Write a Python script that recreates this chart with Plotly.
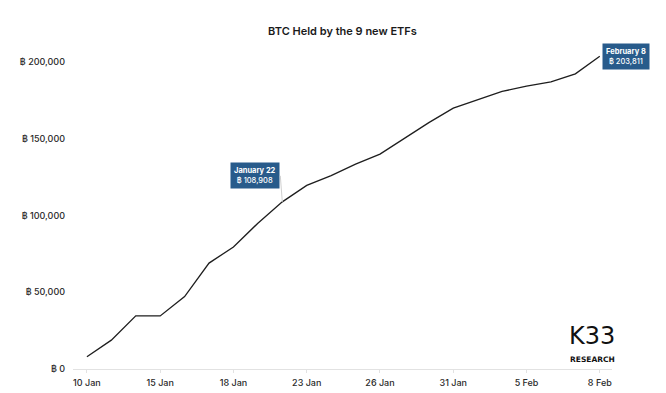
import plotly.graph_objects as go

dates = ["10 Jan", "11 Jan", "12 Jan", "15 Jan", "16 Jan", "17 Jan", "18 Jan", "19 Jan",
         "22 Jan", "23 Jan", "24 Jan", "25 Jan", "26 Jan", "29 Jan", "30 Jan", "31 Jan",
         "1 Feb", "2 Feb", "5 Feb", "6 Feb", "7 Feb", "8 Feb"]
btc_held = [8000, 18800, 34600, 34600, 47200, 69000, 79500, 95000,
            108908, 119600, 126000, 133500, 140000, 150100, 160500, 170000,
            175300, 180800, 184300, 187000, 192300, 203811]
tick_labels = ["10 Jan", "15 Jan", "18 Jan", "23 Jan", "26 Jan", "31 Jan", "5 Feb", "8 Feb"]
y_ticks = [0, 50000, 100000, 150000, 200000]
y_tick_text = [f"฿ {v:,}" for v in y_ticks]

title_text = "BTC Held by the 9 new ETFs"
font_family = "Inter, Lato, sans-serif"
box_color = "#285b8b"

fig = go.Figure()
fig.add_trace(go.Scatter(x=dates, y=btc_held, mode="lines",
                         line=dict(color="#1e1e1e", width=1.3),
                         hoverinfo="skip", showlegend=False))

def label_text(name, val):
    return f"<b>{name}</b><br>฿ {val:,}"

i22 = dates.index("22 Jan")
fig.add_annotation(x=dates[i22], y=btc_held[i22], xref="x", yref="y",
                   text=label_text("January 22", btc_held[i22]),
                   showarrow=True, arrowhead=0, arrowwidth=1, arrowcolor="#d0d0d0",
                   ax=-2, ay=-26, xanchor="right", yanchor="middle",
                   bgcolor=box_color, borderpad=3,
                   font=dict(family=font_family, size=7.5, color="white", weight=500))

ilast = len(dates) - 1
fig.add_annotation(x=dates[ilast], y=btc_held[ilast], xref="x", yref="y",
                   text=label_text("February 8", btc_held[ilast]),
                   showarrow=False, xanchor="left", yanchor="middle", xshift=2,
                   bgcolor=box_color, borderpad=3,
                   font=dict(family=font_family, size=7.5, color="white", weight=500))

# logo
fig.add_annotation(x=0.963, y=0.051, xref="paper", yref="paper", text="K33",
                   showarrow=False, xanchor="center", yanchor="bottom",
                   font=dict(family="DejaVu Sans", size=24, color="#111"))
fig.add_annotation(x=0.963, y=0.049, xref="paper", yref="paper", text="<b>RESEARCH</b>",
                   showarrow=False, xanchor="center", yanchor="top",
                   font=dict(family="DejaVu Sans", size=7.5, color="#111"))

fig.update_layout(
    width=666, height=393,
    margin=dict(l=73, r=54, t=39, b=24),
    paper_bgcolor="white", plot_bgcolor="white",
    title=dict(text=title_text, x=0.5, xref="paper", y=0.921, yref="container",
               xanchor="center", yanchor="middle",
               font=dict(family=font_family, size=11, color="#1a1a1a", weight=600)),
    font=dict(family=font_family, color="#2a2a2a"),
    xaxis=dict(type="category", range=[-0.57, 21.5], automargin=False,
               tickmode="array", tickvals=tick_labels, ticktext=tick_labels,
               showgrid=False, zeroline=False,
               showline=True, linecolor="#e2e2e2", linewidth=1,
               ticks="outside", ticklen=3, tickcolor="#e2e2e2",
               ticklabelstandoff=2,
               tickfont=dict(size=9, color="#2a2a2a", weight=500)),
    yaxis=dict(range=[0, 215000], tickmode="array", tickvals=y_ticks, ticktext=y_tick_text,
               automargin=False,
               showgrid=False, zeroline=False, showline=False,
               ticks="", ticklabelstandoff=7,
               tickfont=dict(size=9, color="#2a2a2a", weight=500)),
)

fig.write_html("out.html")
